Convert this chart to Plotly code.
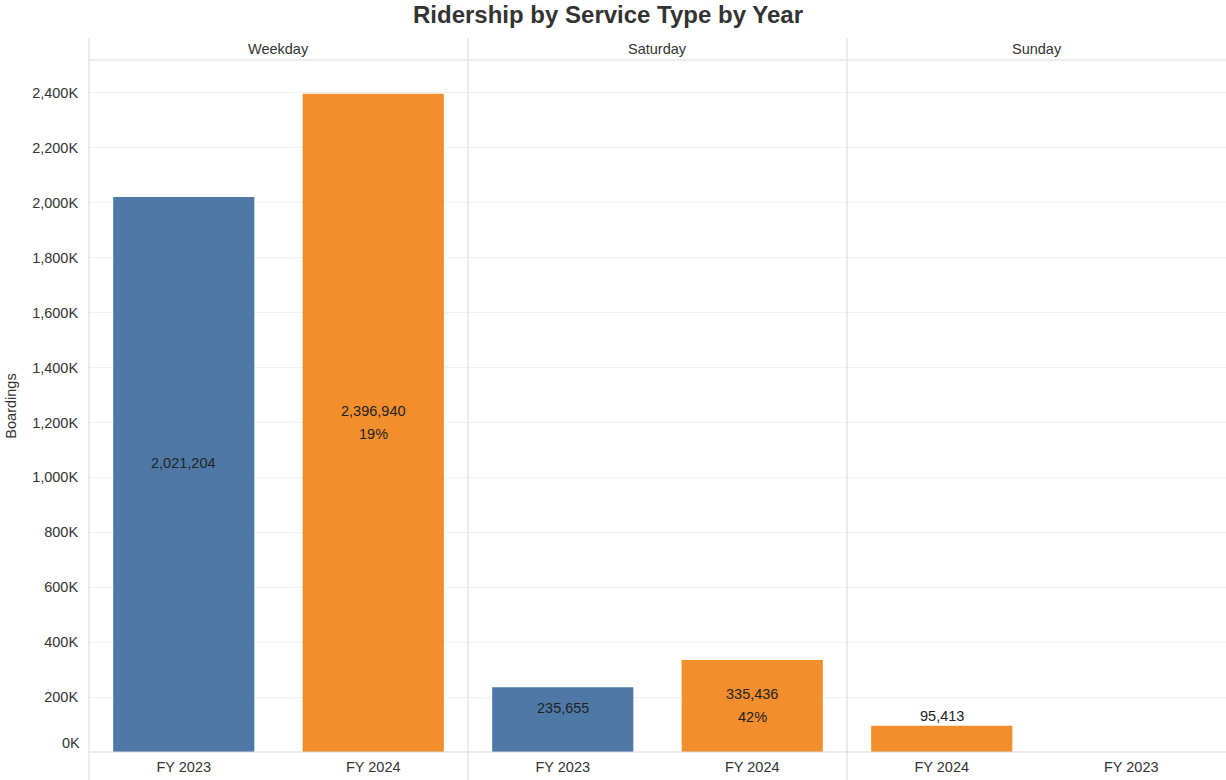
import plotly.graph_objects as go

# Boardings by service type and fiscal year
service_types = ["Weekday", "Saturday", "Sunday"]

weekday_years = ["FY 2023", "FY 2024"]
weekday_boardings = [2021204, 2396940]

saturday_years = ["FY 2023", "FY 2024"]
saturday_boardings = [235655, 335436]

sunday_years = ["FY 2024", "FY 2023"]
sunday_boardings = [95413, None]

year_colors = {"FY 2023": "#4e79a7", "FY 2024": "#f28e2b"}

y_tick_values = [0, 200000, 400000, 600000, 800000, 1000000, 1200000,
                 1400000, 1600000, 1800000, 2000000, 2200000, 2400000]
y_tick_labels = ["0K", "200K", "400K", "600K", "800K", "1,000K", "1,200K",
                 "1,400K", "1,600K", "1,800K", "2,000K", "2,200K", "2,400K"]

panels = [
    (weekday_years, weekday_boardings),
    (saturday_years, saturday_boardings),
    (sunday_years, sunday_boardings),
]

FONT = "Liberation Sans, Arial, sans-serif"
TEXT = "#333333"
LINE = "#d9d9d9"
FS = 14.5

W, H = 1226, 780
M_L, M_R, M_T, M_B = 89, 0, 60, 28
Y_MAX = 2520000
plot_h = H - M_T - M_B
header_top = 1 + 22 / plot_h
bottom_ext = -(M_B) / plot_h

fig = go.Figure()
annotations = []

for i, (years, values) in enumerate(panels):
    xname = "x" if i == 0 else f"x{i + 1}"
    xs = [y for y, v in zip(years, values) if v is not None]
    vs = [v for v in values if v is not None]
    fig.add_trace(go.Bar(
        x=xs, y=vs, xaxis=xname, yaxis="y",
        marker=dict(color=[year_colors[y] for y in xs], line=dict(width=0)),
        width=0.745, showlegend=False,
        hovertemplate="%{x}<br>%{y:,}<extra></extra>",
    ))

    lookup = dict(zip(years, values))
    base = lookup.get("FY 2023")
    for yr, v in zip(xs, vs):
        bar_px = v / Y_MAX * plot_h
        pct = None
        if yr == "FY 2024" and base:
            pct = f"{round((v - base) / base * 100):d}%"
        if bar_px < 40:
            # short bar: value sits just above it
            annotations.append(dict(
                x=yr, y=v, xref=xname, yref="y", text=f"{v:,}",
                showarrow=False, yanchor="bottom", yshift=0,
                font=dict(family=FONT, size=FS, color="#222222")))
        else:
            annotations.append(dict(
                x=yr, y=v / 2, xref=xname, yref="y", text=f"{v:,}",
                showarrow=False, yanchor="middle", yshift=11.5,
                font=dict(family=FONT, size=FS, color="#222222")))
            if pct:
                annotations.append(dict(
                    x=yr, y=v / 2, xref=xname, yref="y", text=pct,
                    showarrow=False, yanchor="middle", yshift=-11.5,
                    font=dict(family=FONT, size=FS, color="#222222")))

axis_common = dict(
    type="category", showgrid=False, zeroline=False, showline=False,
    ticks="outside", ticklen=2, tickcolor="rgba(0,0,0,0)",
    tickfont=dict(family=FONT, size=FS, color=TEXT),
    range=[-0.5, 1.5], fixedrange=True,
)

layout = dict(
    width=W, height=H,
    margin=dict(l=M_L, r=M_R, t=M_T, b=M_B),
    paper_bgcolor="white", plot_bgcolor="white",
    title=dict(text="<b>Ridership by Service Type by Year</b>",
               x=(608 - M_L) / (W - M_L), xanchor="center",
               y=1 - 15 / H, yanchor="middle",
               font=dict(family=FONT, size=24, color=TEXT)),
    yaxis=dict(
        range=[0, Y_MAX], tickvals=y_tick_values,
        ticktext=[""] + y_tick_labels[1:],
        showgrid=True, gridcolor="#f0f0f0", gridwidth=1,
        zeroline=False, showline=False,
        ticks="outside", ticklen=7, tickcolor="rgba(0,0,0,0)",
        tickfont=dict(family=FONT, size=FS, color=TEXT),
        title=dict(text="Boardings", font=dict(family=FONT, size=FS, color=TEXT),
                   standoff=12),
        fixedrange=True,
    ),
)
for i in range(3):
    key = "xaxis" if i == 0 else f"xaxis{i + 1}"
    cats = panels[i][0]
    layout[key] = dict(axis_common, domain=[i / 3, (i + 1) / 3],
                       anchor="y", categoryorder="array", categoryarray=cats)
fig.update_layout(**layout)
fig.update_layout(title_xref="paper")

# bottom tick label for zero, nudged up to sit inside the plot
annotations.append(dict(
    x=0, xref="paper", xanchor="right", xshift=-7,
    y=0, yref="y", yanchor="middle", yshift=9,
    text=y_tick_labels[0], showarrow=False,
    font=dict(family=FONT, size=FS, color=TEXT)))

# panel headers
for i, name in enumerate(service_types):
    annotations.append(dict(
        x=(i + 0.5) / 3, xref="paper", y=(1 + header_top) / 2, yref="paper",
        text=name, showarrow=False, xanchor="center", yanchor="middle",
        font=dict(family=FONT, size=FS, color=TEXT)))

shapes = []
# vertical panel borders, running through header and tick-label band
for xp in [0, 1 / 3, 2 / 3]:
    shapes.append(dict(type="line", xref="paper", yref="paper",
                       x0=xp, x1=xp, y0=bottom_ext, y1=header_top,
                       line=dict(color=LINE, width=1)))
# header bottom rule and zero baseline
shapes.append(dict(type="line", xref="paper", yref="paper",
                   x0=0, x1=1, y0=1, y1=1, line=dict(color=LINE, width=1)))
shapes.append(dict(type="line", xref="paper", yref="paper",
                   x0=0, x1=1, y0=0, y1=0, line=dict(color=LINE, width=1)))

fig.update_layout(annotations=annotations, shapes=shapes)
fig.write_html("out.html")
